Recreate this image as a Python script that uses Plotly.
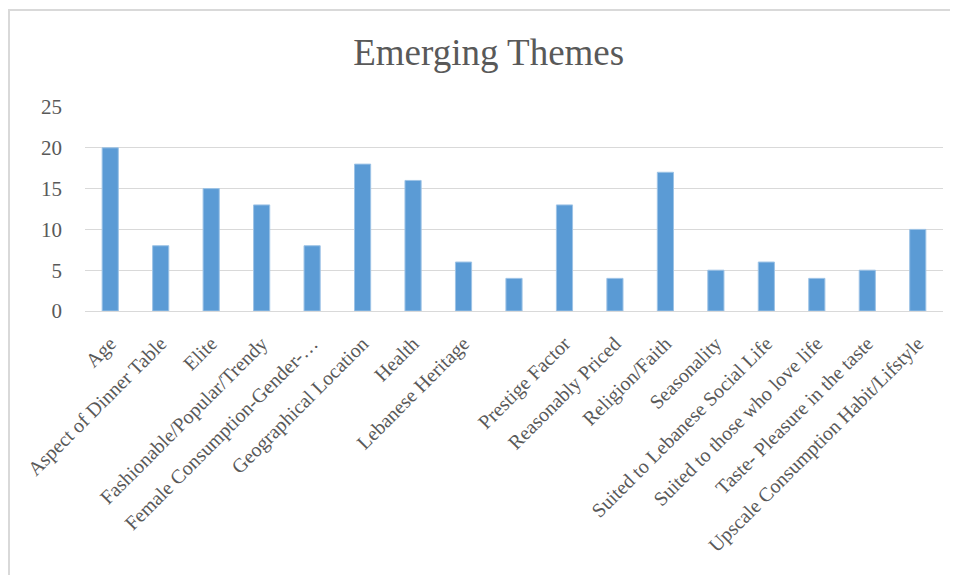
import plotly.graph_objects as go

categories = [
    "Age", "Aspect of Dinner Table", "Elite", "Fashionable/Popular/Trendy",
    "Female Consumption-Gender-…", "Geographical Location", "Health",
    "Lebanese Heritage", " ", "Prestige Factor", "Reasonably Priced",
    "Religion/Faith", "Seasonality", "Suited to Lebanese Social Life",
    "Suited to those who love life", "Taste- Pleasure in the taste",
    "Upscale Consumption Habit/Lifstyle",
]
values = [20, 8, 15, 13, 8, 18, 16, 6, 4, 13, 4, 17, 5, 6, 4, 5, 10]
y_ticks = [0, 5, 10, 15, 20, 25]

font_family = "Liberation Serif, Times New Roman, serif"
text_color = "#595959"

fig = go.Figure(
    go.Bar(
        x=categories,
        y=values,
        marker=dict(color="#5B9BD5", line=dict(color="#9DC3E6", width=1)),
        hoverinfo="x+y",
    )
)

x_left = -76 / 858
y_top = 1 + 97 / 204

fig.update_layout(
    width=950,
    height=567,
    margin=dict(l=77, r=15, t=99, b=264),
    paper_bgcolor="white",
    plot_bgcolor="white",
    bargap=0.68,
    showlegend=False,
    title=dict(
        text="Emerging Themes",
        x=0.506,
        xanchor="center",
        y=1 - 44 / 567,
        yanchor="middle",
        font=dict(family=font_family, size=37, color=text_color),
    ),
    font=dict(family=font_family, color=text_color),
    shapes=[
        dict(
            type="path", xref="paper", yref="paper",
            path=f"M {x_left},-1.5 L {x_left},{y_top} L 1.2,{y_top}",
            line=dict(color="#D9D9D9", width=2),
            layer="below",
        )
    ],
)

fig.update_xaxes(
    type="category",
    tickangle=-45,
    tickfont=dict(family=font_family, size=20, color=text_color),
    showgrid=False,
    showline=True,
    linecolor="#D9D9D9",
    linewidth=1,
    ticks="",
    ticklabelstandoff=12,
)
fig.update_yaxes(
    range=[0, 25],
    tickvals=y_ticks,
    tickfont=dict(family=font_family, size=21, color=text_color),
    showgrid=True,
    gridcolor="#D9D9D9",
    gridwidth=1,
    zeroline=False,
    showline=False,
    ticks="",
    ticklabelstandoff=22,
)

fig.write_html("out.html")
